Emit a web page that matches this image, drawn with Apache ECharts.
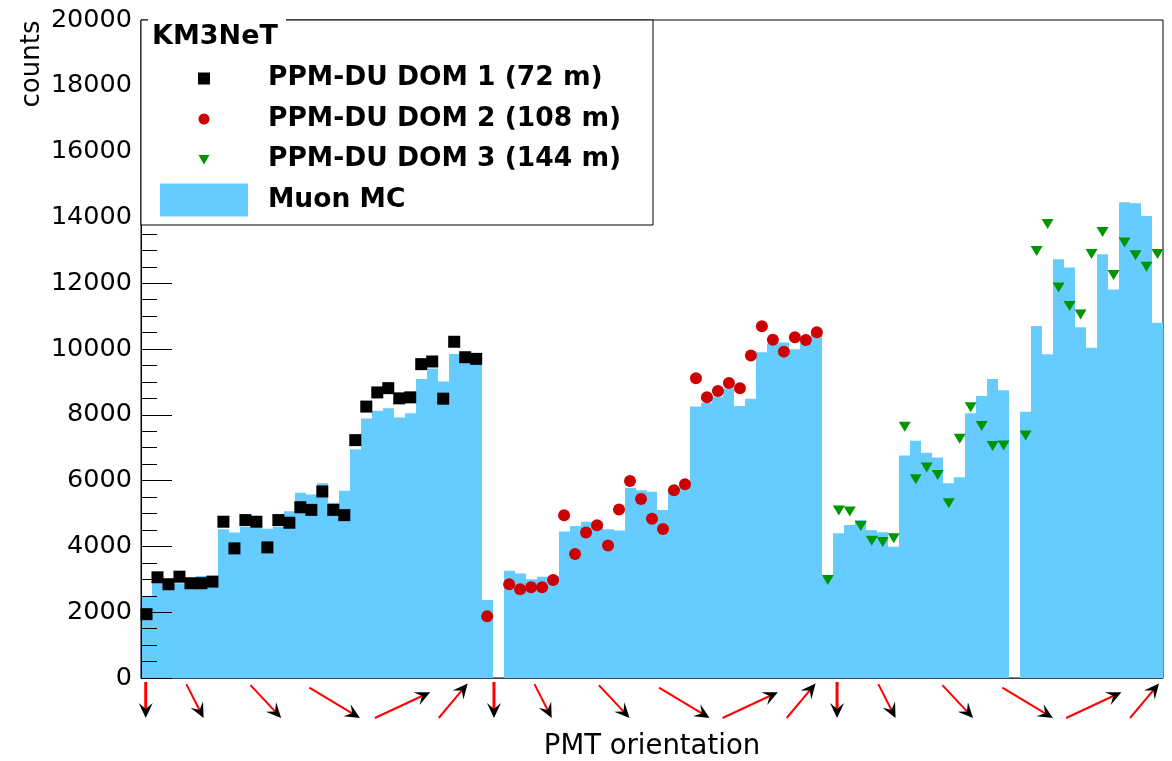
<!DOCTYPE html>
<html>
<head>
<meta charset="utf-8">
<script src="https://cdn.jsdelivr.net/npm/echarts@6/dist/echarts.min.js"></script>
<style>
  html, body { margin: 0; padding: 0; background: #fff; }
  #chart { width: 1172px; height: 761px; }
</style>
</head>
<body>
<div id="chart"></div>
<script>
// PMT hit counts per DOM, one entry per PMT (31 PMTs per DOM); null = PMT without data
const DOM1_COUNTS = [1940, 3060, 2850, 3080, 2880, 2880, 2930, 4750, 3940, 4800, 4750, 3970, 4800, 4720,
  5190, 5110, 5670, 5110, 4950, 7230, 8250, 8680, 8810, 8500, 8530, 9540, 9620, 8490, 10220, 9750, 9700];
const DOM2_COUNTS = [1880, null, 2850, 2700, 2760, 2760, 2980, 4950, 3770, 4420, 4640, 4030, 5120, 5990,
  5440, 4840, 4530, 5710, 5890, 9110, 8530, 8720, 8970, 8810, 9800, 10690, 10280, 9920, 10360, 10270, 10510];
const DOM3_COUNTS = [2980, 5090, 5060, 4620, 4170, 4130, 4250, 7640, 6040, 6400, 6170, 5310, 7270, 8230,
  7660, 7050, 7070, null, 7370, 12980, 13800, 11870, 11310, 11050, 12890, 13560, 12250, 13240, 12850, 12500, 12890];

// Muon MC expectation, one bin per PMT for the three DOMs in sequence (93 bins)
const MUON_MC = [
  2490, 2880, 2780, 2880, 2850, 3100, 3100, 4520, 4420, 4600, 4580, 4540, 4600, 5070, 5630, 5580,
  5920, 5330, 5690, 6950, 7890, 8120, 8200, 7920, 8050, 9090, 9410, 9010, 9850, 9850, 9540,
  2370, null, 3260, 3180, 3000, 3080, 3100, 4450, 4620, 4750, 4750, 4520, 4480, 5780, 5710, 5660,
  5110, 5680, 5780, 8250, 8370, 8550, 8800, 8270, 8490, 9900, 10170, 10200, 9990, 10290, 10480,
  3080, 4400, 4650, 4800, 4500, 4430, 3990, 6760, 7210, 6850, 6700, 5920, 6100, 8050, 8570, 9090,
  8750, null, 8090, 10700, 9840, 12730, 12480, 10660, 10040, 12880, 11810, 14460, 14430, 14040, 10800];

const SERIES_NAMES = ['PPM-DU DOM 1 (72 m)', 'PPM-DU DOM 2 (108 m)', 'PPM-DU DOM 3 (144 m)', 'Muon MC'];
const LEGEND_TITLE = 'KM3NeT';
const X_TITLE = 'PMT orientation';
const Y_TITLE = 'counts';
const PMTS_PER_DOM = 31;
const N_BINS = MUON_MC.length;

// PMT ring orientation markers below the axis: position (in PMT bins) and ring index
const ORIENT_POS = [0.43, 4.91, 11.36, 17.62, 23.8, 28.41,
                    32.12, 36.59, 43.06, 49.44, 55.44, 60.07,
                    63.34, 67.88, 74.32, 80.68, 86.7, 91.32];
// pointing direction of each ring (degrees above horizontal)
const RING_ANGLE = [-90, -63, -47, -31, 25, 50];

// ---- drawing styles ----
const FONT = 'DejaVu Sans';
const MC_COLOR = '#66ccff';
const ARROW_LEN = [36, 38, 45, 59, 61, 45];

function domPoints(counts, domIndex) {
  const out = [];
  counts.forEach((v, i) => {
    if (v != null) out.push([domIndex * PMTS_PER_DOM + i + 0.5, v]);
  });
  return out;
}

const mcData = [];
MUON_MC.forEach((v, k) => { if (v != null) mcData.push([k, v]); });

function renderBin(params, api) {
  const k = api.value(0), v = api.value(1);
  const p0 = api.coord([k, 0]);
  const p1 = api.coord([k + 1, v]);
  const x0 = Math.round(p0[0]), x1 = Math.round(p1[0]);
  return {
    type: 'rect',
    shape: { x: x0, y: p1[1], width: x1 - x0, height: p0[1] - p1[1] },
    style: { fill: MC_COLOR }
  };
}

function renderArrow(params, api) {
  const pos = api.value(0), ring = api.value(1);
  const base = api.coord([pos, 0]);
  const a = RING_ANGLE[ring] * Math.PI / 180;
  const len = ARROW_LEN[ring];
  const ux = Math.cos(a), uy = -Math.sin(a);
  const cx = base[0];
  const cy = base[1] + 40 - Math.abs(uy) * len / 2;
  const tail = [cx - ux * len / 2, cy - uy * len / 2];
  const tip = [cx + ux * len / 2, cy + uy * len / 2];
  const nx = -uy, ny = ux;
  const H = 15, W = 7, N = 9;
  const head = [
    tip,
    [tip[0] - ux * H + nx * W, tip[1] - uy * H + ny * W],
    [tip[0] - ux * N, tip[1] - uy * N],
    [tip[0] - ux * H - nx * W, tip[1] - uy * H - ny * W]
  ];
  return {
    type: 'group',
    children: [
      { type: 'line', shape: { x1: tail[0], y1: tail[1], x2: tip[0] - ux * N, y2: tip[1] - uy * N },
        style: { stroke: '#ff0000', lineWidth: ring === 0 ? 3 : 2 } },
      { type: 'polygon', shape: { points: head }, style: { fill: '#000' } }
    ]
  };
}

// legend icons: small markers centred in an 88x33 icon box
const ICON_SQUARE = 'path://M0,0M88,33M38,10.5h12v12h-12z';
const ICON_CIRCLE = 'path://M0,0M88,33M38.5,16.5a5.5,5.5 0 1,0 11,0a5.5,5.5 0 1,0 -11,0z';
const ICON_TRIANGLE = 'path://M0,0M88,33M38.5,12h11l-5.5,9.5z';

const chart = echarts.init(document.getElementById('chart'), null, { renderer: 'canvas' });

chart.setOption({
  animation: false,
  backgroundColor: '#fff',
  grid: { left: 141, right: 9, top: 20, bottom: 83, show: true, borderColor: '#000', borderWidth: 1,
          containLabel: false, outerBoundsMode: 'none' },
  xAxis: {
    type: 'value', min: 0, max: N_BINS,
    name: X_TITLE, nameLocation: 'middle', nameGap: 55,
    nameTextStyle: { fontFamily: FONT, fontSize: 27.5, color: '#000' },
    axisLine: { show: true, lineStyle: { color: '#444', width: 1 } },
    axisTick: { show: false }, axisLabel: { show: false }, splitLine: { show: false },
    z: 5
  },
  yAxis: {
    type: 'value', min: 0, max: 20000, interval: 2000,
    axisLine: { show: true, lineStyle: { color: '#000', width: 1 } },
    axisTick: { show: true, inside: true, length: 31, lineStyle: { color: '#000' } },
    minorTick: { show: true, splitNumber: 4, length: 16, lineStyle: { color: '#000' } },
    axisLabel: { fontFamily: FONT, fontSize: 25.5, color: '#000', margin: 9,
                 formatter: (v) => String(v) },
    splitLine: { show: false }, minorSplitLine: { show: false },
    z: 5
  },
  legend: {
    selectedMode: false,
    orient: 'vertical',
    left: 160, top: 62, padding: 0,
    itemWidth: 88, itemHeight: 33, itemGap: 7.5,
    z: 10,
    textStyle: { fontFamily: FONT, fontSize: 26.5, fontWeight: 'bold', color: '#000', padding: [0, 0, 0, 15] },
    data: [
      { name: SERIES_NAMES[0], icon: ICON_SQUARE },
      { name: SERIES_NAMES[1], icon: ICON_CIRCLE },
      { name: SERIES_NAMES[2], icon: ICON_TRIANGLE },
      { name: SERIES_NAMES[3], icon: 'rect' }
    ]
  },
  graphic: [
    { type: 'rect', z: 8, silent: true,
      shape: { x: 141, y: 20, width: 512, height: 205 },
      style: { fill: '#fff', stroke: '#000', lineWidth: 1 } },
    { type: 'rect', z: 9, silent: true,
      shape: { x: 148, y: 17, width: 138, height: 34 },
      style: { fill: '#fff' } },
    { type: 'text', z: 11, silent: true, x: 152, y: 37,
      style: { text: LEGEND_TITLE, fontFamily: FONT, fontSize: 27, fontWeight: 'bold', fill: '#000',
               textAlign: 'left', textVerticalAlign: 'middle' } },
    { type: 'text', z: 11, silent: true, x: 32, y: 64, rotation: Math.PI / 2,
      style: { text: Y_TITLE, fontFamily: FONT, fontSize: 26, fill: '#000',
               textAlign: 'center', textVerticalAlign: 'middle' } }
  ],
  series: [
    {
      name: SERIES_NAMES[3], type: 'custom', z: 1, silent: true,
      itemStyle: { color: MC_COLOR },
      encode: { x: 0, y: 1 },
      renderItem: renderBin,
      data: mcData
    },
    {
      name: SERIES_NAMES[0], type: 'scatter', z: 3, silent: true,
      symbol: 'rect', symbolSize: 12,
      itemStyle: { color: '#000', opacity: 1 },
      data: domPoints(DOM1_COUNTS, 0)
    },
    {
      name: SERIES_NAMES[1], type: 'scatter', z: 3, silent: true,
      symbol: 'circle', symbolSize: 12,
      itemStyle: { color: '#cc0000', opacity: 1 },
      data: domPoints(DOM2_COUNTS, 1)
    },
    {
      name: SERIES_NAMES[2], type: 'scatter', z: 3, silent: true,
      symbol: 'triangle', symbolSize: [12, 10], symbolRotate: 180,
      itemStyle: { color: '#009600', opacity: 1 },
      data: domPoints(DOM3_COUNTS, 2)
    },
    {
      name: 'orientation', type: 'custom', z: 4, silent: true, clip: false,
      encode: { x: 0 },
      renderItem: renderArrow,
      data: ORIENT_POS.map((p, i) => [p, i % RING_ANGLE.length])
    }
  ]
});
</script>
</body>
</html>
